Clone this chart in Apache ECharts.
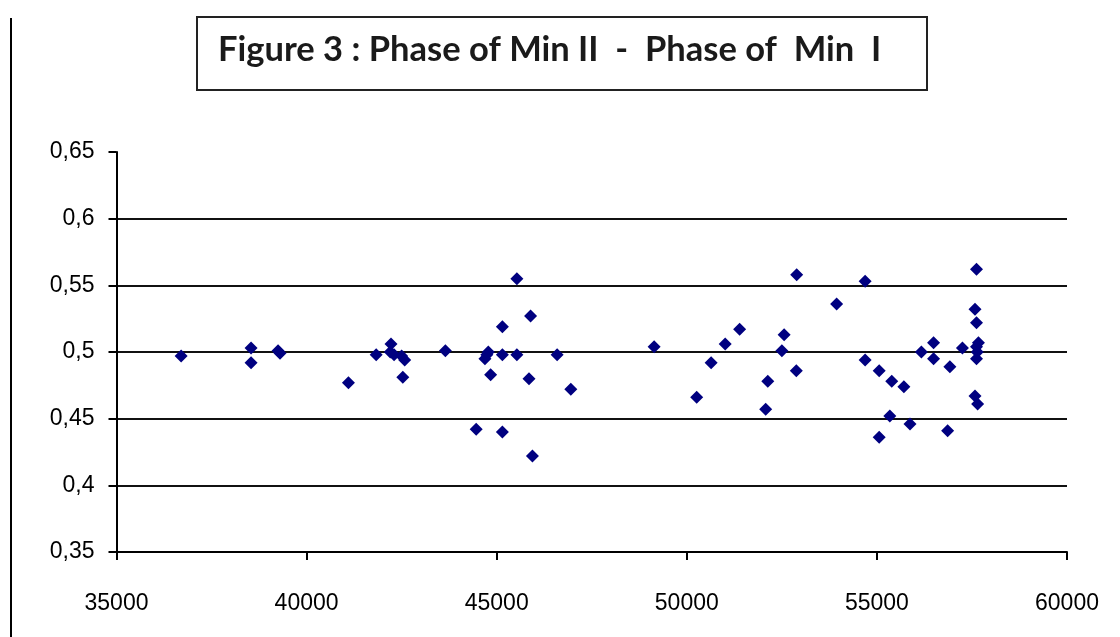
<!DOCTYPE html>
<html>
<head>
<meta charset="utf-8">
<script src="https://cdn.jsdelivr.net/npm/echarts@6/dist/echarts.min.js"></script>
<style>
html,body{margin:0;padding:0;background:#fff;}
#chart{width:1120px;height:637px;}
</style>
</head>
<body>
<div id="chart"></div>
<script>
const titleText = 'Figure 3 : Phase of Min II  -  Phase of  Min  I';
const xValues = [36700,38540,38540,39250,39300,41100,41830,42220,42200,42300,42580,42500,42530,43650,44460,44690,44740,44780,44840,45150,45150,45150,45530,45530,45850,45890,45940,46590,46950,49140,50260,50640,51010,51390,52075,52130,52500,52560,52880,52890,53940,54690,54690,55060,55060,55340,55390,55710,55870,56170,56490,56490,56860,56920,57250,57580,57580,57620,57620,57620,57620,57650,57670,57640];
const yValues = [0.497,0.503,0.492,0.501,0.499,0.477,0.498,0.506,0.500,0.498,0.494,0.497,0.481,0.501,0.442,0.495,0.498,0.500,0.483,0.519,0.498,0.440,0.555,0.498,0.480,0.527,0.422,0.498,0.472,0.504,0.466,0.492,0.506,0.517,0.457,0.478,0.501,0.513,0.486,0.558,0.536,0.553,0.494,0.486,0.436,0.452,0.478,0.474,0.446,0.500,0.507,0.495,0.441,0.489,0.503,0.532,0.467,0.562,0.522,0.504,0.495,0.461,0.507,0.500];
const xTicks = {min: 35000, max: 60000, interval: 5000};
const yTicks = {min: 0.35, max: 0.65, interval: 0.05};

const points = xValues.map((x, i) => [x, yValues[i]]);
const chart = echarts.init(document.getElementById('chart'), null, {renderer: 'canvas'});
const axisFont = {fontFamily: '"Liberation Sans", Arial, sans-serif', fontSize: 23, color: '#000'};
chart.setOption({
  animation: false,
  backgroundColor: '#fff',
  grid: {left: 116.5, right: 53, top: 152, bottom: 85},
  graphic: [
    {type: 'line', shape: {x1: 11, y1: 18, x2: 11, y2: 637}, style: {stroke: '#000', lineWidth: 2}},
    {type: 'rect', shape: {x: 197, y: 17, width: 730, height: 73}, style: {fill: '#fff', stroke: '#222', lineWidth: 2}},
    {type: 'text', x: 218, y: 50, style: {text: titleText, font: 'bold 34.5px Lato, "Open Sans", sans-serif', fill: '#1a1a1a', textVerticalAlign: 'middle', textAlign: 'left'}}
  ],
  xAxis: {
    type: 'value', min: xTicks.min, max: xTicks.max, interval: xTicks.interval,
    axisLine: {show: true, onZero: false, lineStyle: {color: '#000', width: 2}},
    axisTick: {show: true, inside: false, length: 8, lineStyle: {color: '#000', width: 2}},
    axisLabel: Object.assign({margin: 40, formatter: v => String(v)}, axisFont),
    splitLine: {show: false}
  },
  yAxis: {
    type: 'value', min: yTicks.min, max: yTicks.max, interval: yTicks.interval,
    axisLine: {show: true, onZero: false, lineStyle: {color: '#000', width: 2}},
    axisTick: {show: true, inside: false, length: 8, lineStyle: {color: '#000', width: 2}},
    axisLabel: Object.assign({margin: 22, formatter: v => String(Math.round(v * 100) / 100).replace('.', ',')}, axisFont),
    splitLine: {show: true, showMinLine: false, showMaxLine: false, lineStyle: {color: '#111', width: 2}}
  },
  series: [{
    type: 'scatter',
    data: points,
    symbol: 'diamond',
    symbolSize: 13,
    itemStyle: {color: '#000080', opacity: 1},
    z: 5
  }]
});
</script>
</body>
</html>
